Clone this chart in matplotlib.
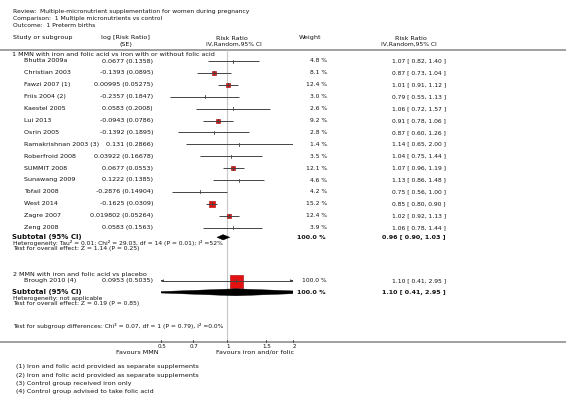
import matplotlib
matplotlib.use("Agg")
import matplotlib.pyplot as plt
import numpy as np
from matplotlib.patches import Polygon

# ---------------- data ----------------
title_lines = ["Review:  Multiple-micronutrient supplementation for women during pregnancy",
               "Comparison:  1 Multiple micronutrients vs control",
               "Outcome:  1 Preterm births"]

sg1_label = "1 MMN with iron and folic acid vs iron with or without folic acid"
sg1_studies = ["Bhutta 2009a", "Christian 2003", "Fawzi 2007 (1)", "Friis 2004 (2)", "Kaestel 2005",
               "Lui 2013", "Osrin 2005", "Ramakrishnan 2003 (3)", "Roberfroid 2008", "SUMMIT 2008",
               "Sunawang 2009", "Tofail 2008", "West 2014", "Zagre 2007", "Zeng 2008"]
sg1_logse = ["0.0677 (0.1358)", "-0.1393 (0.0895)", "0.00995 (0.05275)", "-0.2357 (0.1847)",
             "0.0583 (0.2008)", "-0.0943 (0.0786)", "-0.1392 (0.1895)", "0.131 (0.2866)",
             "0.03922 (0.16678)", "0.0677 (0.0553)", "0.1222 (0.1385)", "-0.2876 (0.14904)",
             "-0.1625 (0.0309)", "0.019802 (0.05264)", "0.0583 (0.1563)"]
sg1_weight = [4.8, 8.1, 12.4, 3.0, 2.6, 9.2, 2.8, 1.4, 3.5, 12.1, 4.6, 4.2, 15.2, 12.4, 3.9]
sg1_rr = [1.07, 0.87, 1.01, 0.79, 1.06, 0.91, 0.87, 1.14, 1.04, 1.07, 1.13, 0.75, 0.85, 1.02, 1.06]
sg1_lo = [0.82, 0.73, 0.91, 0.55, 0.72, 0.78, 0.60, 0.65, 0.75, 0.96, 0.86, 0.56, 0.80, 0.92, 0.78]
sg1_hi = [1.40, 1.04, 1.12, 1.13, 1.57, 1.06, 1.26, 2.00, 1.44, 1.19, 1.48, 1.00, 0.90, 1.13, 1.44]
sg1_total = (0.96, 0.90, 1.03)
sg1_total_weight = 100.0
sg1_het = "Heterogeneity: Tau\u00b2 = 0.01; Chi\u00b2 = 29.03, df = 14 (P = 0.01); I\u00b2 =52%"
sg1_test = "Test for overall effect: Z = 1.14 (P = 0.25)"

sg2_label = "2 MMN with iron and folic acid vs placebo"
sg2_studies = ["Brough 2010 (4)"]
sg2_logse = ["0.0953 (0.5035)"]
sg2_weight = [100.0]
sg2_rr = [1.10]
sg2_lo = [0.41]
sg2_hi = [2.95]
sg2_total = (1.10, 0.41, 2.95)
sg2_total_weight = 100.0
sg2_het = "Heterogeneity: not applicable"
sg2_test = "Test for overall effect: Z = 0.19 (P = 0.85)"

subgroup_diff = "Test for subgroup differences: Chi\u00b2 = 0.07, df = 1 (P = 0.79), I\u00b2 =0.0%"
xticks = [0.5, 0.7, 1, 1.5, 2]
xticklabels = ["0.5", "0.7", "1", "1.5", "2"]
favours_left = "Favours MMN"
favours_right = "Favours iron and/or folic"
footnotes = ["(1) Iron and folic acid provided as separate supplements",
             "(2) Iron and folic acid provided as separate supplements",
             "(3) Control group received iron only",
             "(4) Control group advised to take folic acid"]

# ---------------- layout ----------------
W, H = 566, 403
fig = plt.figure(figsize=(W / 100, H / 100), dpi=100)
fig.patch.set_facecolor("white")

tx = fig.add_axes([0, 0, 1, 1])
tx.set_xlim(0, W)
tx.set_ylim(H, 0)
tx.axis("off")

XL, XR = 161, 293
ax = fig.add_axes([XL / W, 0, (XR - XL) / W, 1])
ax.set_xscale("log")
ax.set_xlim(0.5, 2)
ax.set_ylim(H, 0)
ax.axis("off")
ax.patch.set_alpha(0)

FS = 4.6
FS_S = 4.3
TC = "#111111"
GRAY = "#999999"
SQ_FACE = "#e51010"
SQ_EDGE = "#a00000"
LINEC = "#444444"

def t(x, y, s, ha="left", fs=FS, bold=False, color=TC):
    tx.text(x, y, s, ha=ha, va="center", fontsize=fs,
            fontweight="bold" if bold else "normal", color=color)

# titles
for i, line in enumerate(title_lines):
    t(13, 12 + i * 6.6, line, fs=FS_S)

# column headers
t(13, 38, "Study or subgroup")
t(125, 38, "log [Risk Ratio]", ha="center")
t(126, 44.5, "(SE)", ha="center")
t(232, 38, "Risk Ratio", ha="center")
t(234, 44.5, "IV,Random,95% CI", ha="center", fs=FS_S)
t(310, 38, "Weight", ha="center")
t(411, 38, "Risk Ratio", ha="center")
t(409, 44.5, "IV,Random,95% CI", ha="center", fs=FS_S)

tx.plot([0, W], [49.5, 49.5], color=GRAY, lw=1.3)
tx.plot([0, W], [342, 342], color=GRAY, lw=1.3)

# reference line at RR = 1
ax.plot([1, 1], [50, 342], color="#c8c8c8", lw=0.8, zorder=1)

SQ_MAX = 13.0  # px side at 100 % weight

def draw_study(y, name, logse, w, rr, lo, hi):
    t(24, y, name)
    t(153, y, logse, ha="right")
    t(327, y, f"{w:.1f} %", ha="right", fs=FS_S)
    t(446, y, f"{rr:.2f} [ {lo:.2f}, {hi:.2f} ]", ha="right", fs=FS_S)
    xmin, xmax = ax.get_xlim()
    l = max(lo, xmin)
    h = min(hi, xmax)
    ax.plot([l, h], [y, y], color=LINEC, lw=0.7, zorder=3, solid_capstyle="butt")
    if lo < xmin:
        ax.annotate("", xy=(xmin, y), xytext=(xmin * 1.04, y),
                    arrowprops=dict(arrowstyle="-|>", color=LINEC, lw=0.6,
                                    mutation_scale=3), zorder=4)
    if hi > xmax:
        ax.annotate("", xy=(xmax, y), xytext=(xmax / 1.04, y),
                    arrowprops=dict(arrowstyle="-|>", color=LINEC, lw=0.6,
                                    mutation_scale=3), zorder=4)
    side_px = SQ_MAX * np.sqrt(w / 100.0)
    if side_px >= 3.0:
        ms = side_px * 72 / 100
        ax.plot([rr], [y], marker="s", ms=ms, mfc=SQ_FACE, mec=SQ_EDGE,
                mew=0.4, ls="none", zorder=2)
    ax.plot([rr, rr], [y - 1.5, y + 1.5], color=LINEC, lw=0.6, zorder=5)

def draw_diamond(y, est, lo, hi, half_h):
    xs = [lo, est, hi, est]
    ys = [y, y - half_h, y, y + half_h]
    poly = Polygon(list(zip(xs, ys)), closed=True, facecolor="black",
                   edgecolor="black", lw=0.3, zorder=4)
    poly.set_clip_on(True)
    ax.add_patch(poly)

# ---- subgroup 1 ----
t(12, 54, sg1_label)
y0, step = 61.0, 11.9
for i in range(len(sg1_studies)):
    draw_study(y0 + i * step, sg1_studies[i], sg1_logse[i], sg1_weight[i],
               sg1_rr[i], sg1_lo[i], sg1_hi[i])
ysub1 = 237.3
t(12, ysub1, "Subtotal (95% CI)", bold=True, fs=5.0)
t(326, ysub1, f"{sg1_total_weight:.1f} %", ha="right", bold=True)
t(446, ysub1, f"{sg1_total[0]:.2f} [ {sg1_total[1]:.2f}, {sg1_total[2]:.2f} ]",
  ha="right", bold=True)
draw_diamond(ysub1, *sg1_total, half_h=2.7)
t(13, 242.8, sg1_het, fs=FS_S)
t(13, 248.3, sg1_test, fs=FS_S)

# ---- subgroup 2 ----
t(13, 274.3, sg2_label)
draw_study(280.7, sg2_studies[0], sg2_logse[0], sg2_weight[0], sg2_rr[0], sg2_lo[0], sg2_hi[0])
ysub2 = 292.3
t(12, ysub2, "Subtotal (95% CI)", bold=True, fs=5.0)
t(326, ysub2, f"{sg2_total_weight:.1f} %", ha="right", bold=True)
t(446, ysub2, f"{sg2_total[0]:.2f} [ {sg2_total[1]:.2f}, {sg2_total[2]:.2f} ]",
  ha="right", bold=True)
draw_diamond(ysub2, *sg2_total, half_h=3.5)
t(13, 298.6, sg2_het, fs=FS_S)
t(13, 303.8, sg2_test, fs=FS_S)

t(13, 326, subgroup_diff, fs=FS_S)

# ---- axis ticks ----
for v, lab in zip(xticks, xticklabels):
    ax.plot([v, v], [339.5, 342], color="#333333", lw=0.6, zorder=5, clip_on=False)
    ax.text(v * 1.01, 346, lab, ha="center", va="center", fontsize=4.0, color=TC)
t(159, 352.3, favours_left, ha="right")
t(216, 352.3, favours_right, ha="left")

for i, fn in enumerate(footnotes):
    t(16, 366.7 + i * 8.35, fn)

fig.savefig("out.png", dpi=100)
